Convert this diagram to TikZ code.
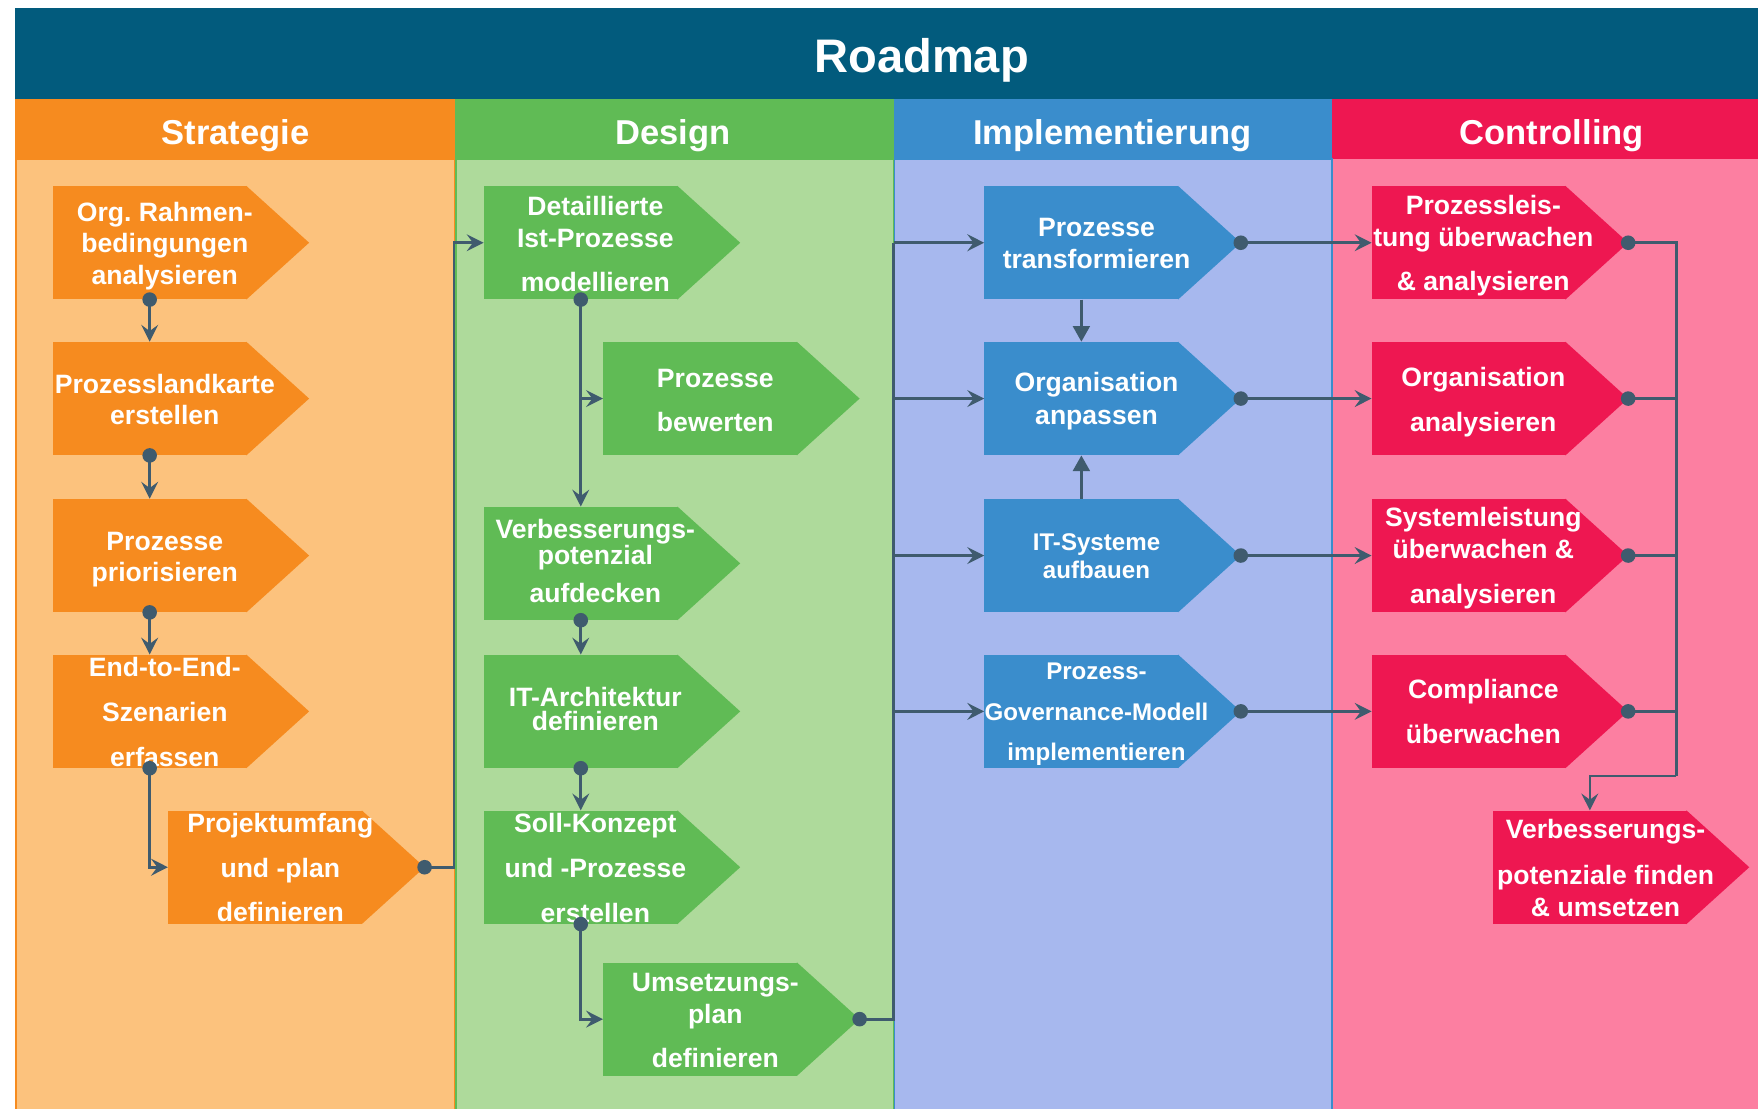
\documentclass[tikz,border=0pt]{standalone}
\usepackage{fontspec}
\setmainfont{Liberation Sans}
\usetikzlibrary{arrows.meta,calc}
\frenchspacing

\definecolor{titlec}{HTML}{025B7D}
\definecolor{orH}{HTML}{F68B1F}
\definecolor{orB}{HTML}{FCC27D}
\definecolor{grH}{HTML}{60BB55}
\definecolor{grB}{HTML}{AEDA9B}
\definecolor{blH}{HTML}{3A8DCC}
\definecolor{blB}{HTML}{A7B8EE}
\definecolor{pkH}{HTML}{EE1751}
\definecolor{pkB}{HTML}{FC7FA1}
\definecolor{conn}{HTML}{3F5B6E}

\tikzset{
  pbox/.style={rectangle, fill=#1, minimum width=173pt, minimum height=101pt, inner sep=0pt},
  btxt/.style={text=white, font=\bfseries\fontsize{23.7}{26}\selectfont, anchor=base, inner sep=0pt},
  stxt/.style={text=white, font=\bfseries\fontsize{21.5}{24}\selectfont, anchor=base, inner sep=0pt},
  htxt/.style={text=white, font=\bfseries\fontsize{30.8}{34}\selectfont, anchor=base, inner sep=0pt},
  ttxt/.style={text=white, font=\bfseries\fontsize{42}{46}\selectfont, anchor=base, inner sep=0pt},
  cline/.style={draw=conn, line width=2.4pt},
  arr/.style={cline, -{Stealth[length=15pt,width=15pt,inset=5.5pt]}},
  tarr/.style={cline, -{Triangle[length=14pt,width=15pt]}},
}

\begin{document}
\begin{tikzpicture}[x=1pt,y=-1pt]
\useasboundingbox (0,0) rectangle (1568,989.14);
\clip (0,0) rectangle (1568,989.14);
\fill[white] (0,0) rectangle (1568,989.14);

% title bar
\fill[titlec] (13,7) rectangle (1580,88);
\node[ttxt] (title) at (822,64.5) {Roadmap};

% columns
\path[fill=orH] (13,88) rectangle (406,142);
\path[fill=grH] (406,88) rectangle (797,142);
\path[fill=blH] (797,88) rectangle (1188,142);
\path[fill=pkH] (1188,88) rectangle (1580,142);
\path[fill=orB, draw=orH, line width=1.5pt] (14,142) rectangle (406,1000);
\path[fill=grB, draw=grH, line width=1.5pt] (406.75,142) rectangle (797,1000);
\path[fill=blB, draw=blH, line width=1.5pt] (797.75,142) rectangle (1188,1000);
\path[fill=pkB] (1188.75,142) rectangle (1580,1000);
\draw[blH, line width=1.5pt] (1188,142) -- (1188,1000);

\node[htxt] (hS) at (210,128.5) {Strategie};
\node[htxt] (hD) at (600,128.5) {Design};
\node[htxt] (hI) at (992,128.5) {Implementierung};
\node[htxt] (hC) at (1384,128.5) {Controlling};

% boxes
\node[pbox=orH] (o1) at (133.5,216.5) {};
\node[pbox=orH] (o2) at (133.5,355.5) {};
\node[pbox=orH] (o3) at (133.5,495.5) {};
\node[pbox=orH] (o4) at (133.5,634.5) {};
\node[pbox=orH] (o5) at (236.5,773.5) {};
\node[pbox=grH] (g1) at (518,216.5) {};
\node[pbox=grH] (g2) at (624.5,355.5) {};
\node[pbox=grH] (g3) at (518,502.5) {};
\node[pbox=grH] (g4) at (518,634.5) {};
\node[pbox=grH] (g5) at (518,773.5) {};
\node[pbox=grH] (g6) at (624.5,909) {};
\node[pbox=blH] (b1) at (964.5,216.5) {};
\node[pbox=blH] (b2) at (964.5,355.5) {};
\node[pbox=blH] (b3) at (964.5,495.5) {};
\node[pbox=blH] (b4) at (964.5,634.5) {};
\node[pbox=pkH] (p1) at (1310,216.5) {};
\node[pbox=pkH] (p2) at (1310,355.5) {};
\node[pbox=pkH] (p3) at (1310,495.5) {};
\node[pbox=pkH] (p4) at (1310,634.5) {};
\node[pbox=pkH] (p5) at (1418,773.5) {};

\foreach \n/\c in {o1/orH,o2/orH,o3/orH,o4/orH,o5/orH,g1/grH,g2/grH,g3/grH,g4/grH,g5/grH,g6/grH,b1/blH,b2/blH,b3/blH,b4/blH,p1/pkH,p2/pkH,p3/pkH,p4/pkH,p5/pkH}{
  \fill[\c] ([xshift=-0.5pt]\n.north east) -- ($(\n.east)+(55.5,0)$) -- ([xshift=-0.5pt]\n.south east) -- cycle;
  \coordinate (\n-tip) at ($(\n.east)+(55.5,0)$);
}

% texts
\node[btxt] (o1a) at (147,197.5) {Org. Rahmen-};
\node[btxt] (o1b) at (147,225.5) {bedingungen};
\node[btxt] (o1c) at (147,253.5) {analysieren};
\node[btxt] (o2a) at (147,351) {Prozesslandkarte};
\node[btxt] (o2b) at (147,379) {erstellen};
\node[btxt] (o3a) at (147,491) {Prozesse};
\node[btxt] (o3b) at (147,519) {priorisieren};
\node[btxt] (o4a) at (147,603.5) {End-to-End-};
\node[btxt] (o4b) at (147,643.8) {Szenarien};
\node[btxt] (o4c) at (147,683.3) {erfassen};
\node[btxt] (o5a) at (250,742.5) {Projektumfang};
\node[btxt] (o5b) at (250,782.6) {und -plan};
\node[btxt] (o5c) at (250,822.2) {definieren};

\node[btxt] (g1a) at (531,191.8) {Detaillierte};
\node[btxt] (g1b) at (531,220.6) {Ist-Prozesse};
\node[btxt] (g1c) at (531,260.2) {modellieren};
\node[btxt] (g2a) at (638,345.8) {Prozesse};
\node[btxt] (g2b) at (638,385) {bewerten};
\node[btxt] (g3a) at (531,480.2) {Verbesserungs-};
\node[btxt] (g3b) at (531,503.4) {potenzial};
\node[btxt] (g3c) at (531,537.6) {aufdecken};
\node[btxt] (g4a) at (531,629.8) {IT-Architektur};
\node[btxt] (g4b) at (531,651.8) {definieren};
\node[btxt] (g5a) at (531,742.8) {Soll-Konzept};
\node[btxt] (g5b) at (531,782.6) {und -Prozesse};
\node[btxt] (g5c) at (531,823) {erstellen};
\node[btxt] (g6a) at (638,884) {Umsetzungs-};
\node[btxt] (g6b) at (638,913) {plan};
\node[btxt] (g6c) at (638,952) {definieren};

\node[btxt] (b1a) at (978,211.1) {Prozesse};
\node[btxt] (b1b) at (978,239.4) {transformieren};
\node[btxt] (b2a) at (978,349.4) {Organisation};
\node[btxt] (b2b) at (978,378.5) {anpassen};
\node[stxt] (b3a) at (978,490.6) {IT-Systeme};
\node[stxt] (b3b) at (978,515.9) {aufbauen};
\node[stxt] (b4a) at (978,606) {Prozess-};
\node[stxt] (b4b) at (978,642.3) {Governance-Modell};
\node[stxt] (b4c) at (978,678) {implementieren};

\node[btxt] (p1a) at (1323,190.9) {Prozessleis-};
\node[btxt] (p1b) at (1323,220) {tung überwachen};
\node[btxt] (p1c) at (1323,259.3) {\& analysieren};
\node[btxt] (p2a) at (1323,345) {Organisation};
\node[btxt] (p2b) at (1323,385) {analysieren};
\node[btxt] (p3a) at (1323,469.8) {Systemleistung};
\node[btxt] (p3b) at (1323,498) {überwachen \&};
\node[btxt] (p3c) at (1323,538.2) {analysieren};
\node[btxt] (p4a) at (1323,623) {Compliance};
\node[btxt] (p4b) at (1323,663) {überwachen};
\node[btxt] (p5a) at (1432,747.8) {Verbesserungs-};
\node[btxt] (p5b) at (1432,788.8) {potenziale finden};
\node[btxt] (p5c) at (1432,817.7) {\& umsetzen};

% connectors: Strategie
\draw[arr] (o1.south) -- (o2.north);
\draw[arr] (o2.south) -- (o3.north);
\draw[arr] (o3.south) -- (o4.north);
\draw[arr] (o4.south) |- (o5.west);
\coordinate (jo) at (405,773.5);
\draw[arr] (o5-tip) -- (jo) |- (g1.west);

% Design
\draw[arr] (g1.south) -- (g3.north);
\draw[arr] (g1.south |- g2.west) -- (g2.west);
\draw[arr] (g3.south) -- (g4.north);
\draw[arr] (g4.south) -- (g5.north);
\draw[arr] (g5.south) |- (g6.west);
\coordinate (jg) at (797,909);
\draw[cline] (g6-tip) -- (jg) -- (jg |- b1.west);
\draw[arr] (jg |- b1.west) -- (b1.west);
\draw[arr] (jg |- b2.west) -- (b2.west);
\draw[arr] (jg |- b3.west) -- (b3.west);
\draw[arr] (jg |- b4.west) -- (b4.west);

% Implementierung
\draw[tarr] (b1.south) -- (b2.north);
\draw[tarr] (b3.north) -- (b2.south);
\draw[arr] (b1-tip) -- (p1.west);
\draw[arr] (b2-tip) -- (p2.west);
\draw[arr] (b3-tip) -- (p3.west);
\draw[arr] (b4-tip) -- (p4.west);

% Controlling
\coordinate (jp) at (1495,692);
\draw[cline] (p1-tip) -- (p1-tip -| jp) -- (jp);
\draw[cline] (p2-tip) -- (p2-tip -| jp);
\draw[cline] (p3-tip) -- (p3-tip -| jp);
\draw[cline] (p4-tip) -- (p4-tip -| jp);
\draw[arr] (jp) -| (p5.north);

% dots
\foreach \p in {o1.south,o2.south,o3.south,o4.south,o5-tip,g1.south,g3.south,g4.south,g5.south,g6-tip,b1-tip,b2-tip,b3-tip,b4-tip,p1-tip,p2-tip,p3-tip,p4-tip}{
  \fill[conn] (\p) circle (6.5pt);
}
\end{tikzpicture}
\end{document}
